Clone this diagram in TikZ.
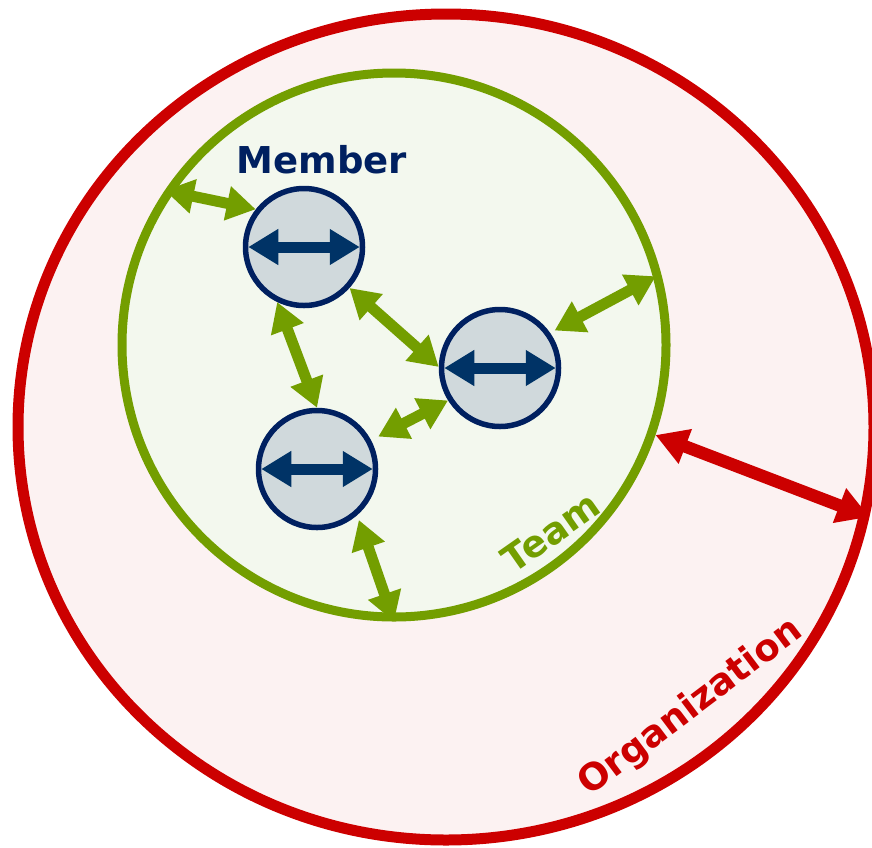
\documentclass[tikz,border=0pt]{standalone}
\usepackage{fontspec}
\setmainfont{DejaVu Sans}
\usetikzlibrary{arrows.meta,shapes.geometric}
\definecolor{orgred}{HTML}{CC0000}
\definecolor{orgfill}{HTML}{FCF2F2}
\definecolor{teamgreen}{HTML}{739E00}
\definecolor{teamfill}{HTML}{F3F8EE}
\definecolor{navy}{HTML}{002060}
\definecolor{memfill}{HTML}{D0D9DC}
\definecolor{arrownavy}{HTML}{003366}
\begin{document}
\begin{tikzpicture}[x=1pt,y=-1pt,
  orgshape/.style={ellipse, draw=orgred, fill=orgfill, line width=11pt,
    minimum width=856pt, minimum height=826pt, inner sep=0pt},
  teamshape/.style={circle, draw=teamgreen, fill=teamfill, line width=9pt,
    minimum size=544pt, inner sep=0pt},
  memshape/.style={circle, draw=navy, fill=memfill, line width=5.5pt,
    minimum size=117pt, inner sep=0pt},
  memarrow/.style={draw=arrownavy, line width=11pt,
    {Triangle[length=30pt,width=34pt]}-{Triangle[length=30pt,width=34pt]}},
  garrow/.style={draw=teamgreen, line width=11pt,
    {Triangle[length=29pt,width=33pt]}-{Triangle[length=29pt,width=33pt]}},
  rarrow/.style={draw=orgred, line width=12.5pt,
    {Triangle[length=32pt,width=35pt]}-{Triangle[length=32pt,width=35pt]}},
  lbl/.style={font=\bfseries\fontsize{37}{40}\selectfont, inner sep=0pt}
]
\useasboundingbox (0,0) rectangle (872,847);
\node[orgshape] (org) at (446,427) {};
\node[teamshape] (team) at (394,345) {};
\node[memshape] (m1) at (304,247) {};
\node[memshape] (m2) at (500,368) {};
\node[memshape] (m3) at (317,469) {};

\draw[memarrow] ([xshift=5.5pt]m1.west) -- ([xshift=-5.5pt]m1.east);
\draw[memarrow] ([xshift=5.5pt]m2.west) -- ([xshift=-5.5pt]m2.east);
\draw[memarrow] ([xshift=5.5pt]m3.west) -- ([xshift=-5.5pt]m3.east);

\draw[garrow] (team.146) -- (m1.142);
\draw[garrow] (m1.-42) -- (m2.179);
\draw[garrow] (m1.-116) -- (m3.90);
\draw[garrow, shorten <=8pt] (m3.28) -- (m2.212);
\draw[garrow, shorten <=5pt, shorten >=6pt] (m2.35) -- (team.15);
\draw[garrow, shorten <=5pt] (m3.-49) -- (team.-90);
\draw[rarrow] (team.-19.4) -- (org.-12.4);

\node[lbl, text=navy] (memberlabel) at (322,160) {Member};
\node[lbl, text=teamgreen, rotate=35] (teamlabel) at (551,532) {Team};
\node[lbl, text=orgred, rotate=37] (orglabel) at (691,708) {Organization};
\end{tikzpicture}
\end{document}
